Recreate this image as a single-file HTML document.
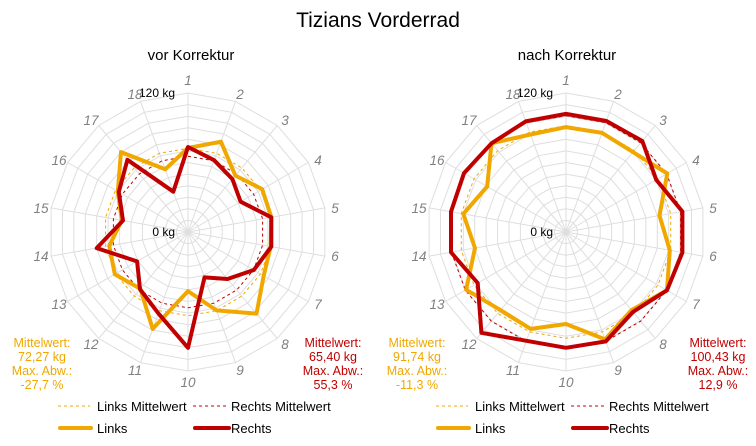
<!DOCTYPE html>
<html><head><meta charset="utf-8"><style>
html,body{margin:0;padding:0;background:#fff;}
svg{display:block;font-family:"Liberation Sans",sans-serif;}
</style></head><body>
<svg id="s" width="756" height="446" viewBox="0 0 756 446">
<rect width="756" height="446" fill="#fff"/>
<g id="grid"></g>
<g id="series"></g>
<text x="378" y="27" font-size="21" text-anchor="middle" fill="#000">Tizians Vorderrad</text>
<text x="191" y="60" font-size="15" text-anchor="middle" fill="#000">vor Korrektur</text>
<text x="567" y="60" font-size="15" text-anchor="middle" fill="#000">nach Korrektur</text>
<g font-size="12" fill="#000" text-anchor="end">
<text x="175" y="97">120 kg</text><text x="175" y="236">0 kg</text>
<text x="553" y="97">120 kg</text><text x="553" y="236">0 kg</text>
</g>
<g font-size="13.5" font-style="italic" fill="#808080" text-anchor="middle">
<text x="188" y="85">1</text><text x="240" y="99">2</text><text x="285" y="125">3</text><text x="318" y="165">4</text><text x="335" y="213">5</text><text x="335" y="261">6</text><text x="318" y="309">7</text><text x="285" y="349">8</text><text x="240" y="375">9</text><text x="188" y="387">10</text><text x="135" y="375">11</text><text x="91" y="349">12</text><text x="59" y="309">13</text><text x="41" y="261">14</text><text x="41" y="213">15</text><text x="59" y="165">16</text><text x="91" y="125">17</text><text x="135" y="99">18</text>
</g>
<g font-size="13.5" font-style="italic" fill="#808080" text-anchor="middle" transform="translate(378,0)">
<text x="188" y="85">1</text><text x="240" y="99">2</text><text x="285" y="125">3</text><text x="318" y="165">4</text><text x="335" y="213">5</text><text x="335" y="261">6</text><text x="318" y="309">7</text><text x="285" y="349">8</text><text x="240" y="375">9</text><text x="188" y="387">10</text><text x="135" y="375">11</text><text x="91" y="349">12</text><text x="59" y="309">13</text><text x="41" y="261">14</text><text x="41" y="213">15</text><text x="59" y="165">16</text><text x="91" y="125">17</text><text x="135" y="99">18</text>
</g>
<g font-size="12.5" text-anchor="middle">
<g fill="#F0A800"><text x="42" y="347">Mittelwert:</text><text x="42" y="361">72,27 kg</text><text x="42" y="375">Max. Abw.:</text><text x="42" y="389">-27,7 %</text></g>
<g fill="#C00000"><text x="333" y="347">Mittelwert:</text><text x="333" y="361">65,40 kg</text><text x="333" y="375">Max. Abw.:</text><text x="333" y="389">55,3 %</text></g>
<g fill="#F0A800"><text x="417" y="347">Mittelwert:</text><text x="417" y="361">91,74 kg</text><text x="417" y="375">Max. Abw.:</text><text x="417" y="389">-11,3 %</text></g>
<g fill="#C00000"><text x="718" y="347">Mittelwert:</text><text x="718" y="361">100,43 kg</text><text x="718" y="375">Max. Abw.:</text><text x="718" y="389">12,9 %</text></g>
</g>
<g font-size="13" fill="#000">
<g>
<line x1="58" y1="406" x2="90" y2="406" stroke="#F0A800" stroke-width="1" stroke-dasharray="3,3"/><text x="97" y="411">Links Mittelwert</text>
<line x1="193" y1="406" x2="226" y2="406" stroke="#C00000" stroke-width="1" stroke-dasharray="3,3"/><text x="231" y="411">Rechts Mittelwert</text>
<line x1="60" y1="428" x2="91" y2="428" stroke="#F0A800" stroke-width="4" stroke-linecap="round"/><text x="97" y="433">Links</text>
<line x1="195" y1="428" x2="229" y2="428" stroke="#C00000" stroke-width="4" stroke-linecap="round"/><text x="231" y="433">Rechts</text>
</g>
<g transform="translate(378,0)">
<line x1="58" y1="406" x2="90" y2="406" stroke="#F0A800" stroke-width="1" stroke-dasharray="3,3"/><text x="97" y="411">Links Mittelwert</text>
<line x1="193" y1="406" x2="226" y2="406" stroke="#C00000" stroke-width="1" stroke-dasharray="3,3"/><text x="231" y="411">Rechts Mittelwert</text>
<line x1="60" y1="428" x2="91" y2="428" stroke="#F0A800" stroke-width="4" stroke-linecap="round"/><text x="97" y="433">Links</text>
<line x1="195" y1="428" x2="229" y2="428" stroke="#C00000" stroke-width="4" stroke-linecap="round"/><text x="231" y="433">Rechts</text>
</g>
</g>
</svg>
<script>
var NS="http://www.w3.org/2000/svg";
var R=139,MAX=120;
function pts(cx,cy,vals){return vals.map(function(v,i){var a=i*Math.PI/9;var r=v/MAX*R;return (cx+r*Math.sin(a)).toFixed(1)+","+(cy-r*Math.cos(a)).toFixed(1);}).join(" ");}
function el(p,tag,at){var e=document.createElementNS(NS,tag);for(var k in at)e.setAttribute(k,at[k]);p.appendChild(e);return e;}
function rep(v){var a=[];for(var i=0;i<18;i++)a.push(v);return a;}
var g=document.getElementById("grid"),s=document.getElementById("series");
var charts=[
 {cx:188,cy:232,L:[72.5,83,63.6,74,73,72.5,75.5,92,72,51,89,64,73,69,58,70,90,57.6],Rr:[73.4,66,59.6,52.4,73,73,65.6,53,41.7,100,74.8,64.5,50.7,80,57,69,81.4,37],mL:72.27,mR:65.40},
 {cx:566,cy:232,L:[90.6,91,90,101,82,91,100.7,88,98.7,79.4,89,88,99.6,79.8,90,78.6,100,89.6],Rr:[102,102,102.5,90,102,102,100.7,90,100.5,100,100,113.6,88,100.8,100.8,101.7,100,101.6],mL:91.74,mR:100.43}
];
charts.forEach(function(c){
 for(var k=1;k<=12;k++)el(g,"polygon",{points:pts(c.cx,c.cy,rep(k*10)),fill:"none",stroke:"#dedede","stroke-width":1});
 for(var i=0;i<18;i++){var a=i*Math.PI/9;el(g,"line",{x1:c.cx,y1:c.cy,x2:(c.cx+R*Math.sin(a)).toFixed(1),y2:(c.cy-R*Math.cos(a)).toFixed(1),stroke:"#dedede","stroke-width":1});}
 el(s,"polygon",{points:pts(c.cx,c.cy,rep(c.mL)),fill:"none",stroke:"#F0A800","stroke-width":1,"stroke-dasharray":"3,3"});
 el(s,"polygon",{points:pts(c.cx,c.cy,rep(c.mR)),fill:"none",stroke:"#C00000","stroke-width":1,"stroke-dasharray":"3,3"});
 el(s,"polygon",{points:pts(c.cx,c.cy,c.L),fill:"none",stroke:"#F0A800","stroke-width":4,"stroke-linejoin":"round"});
 el(s,"polygon",{points:pts(c.cx,c.cy,c.Rr),fill:"none",stroke:"#C00000","stroke-width":4,"stroke-linejoin":"round"});
});
</script>
</body></html>
